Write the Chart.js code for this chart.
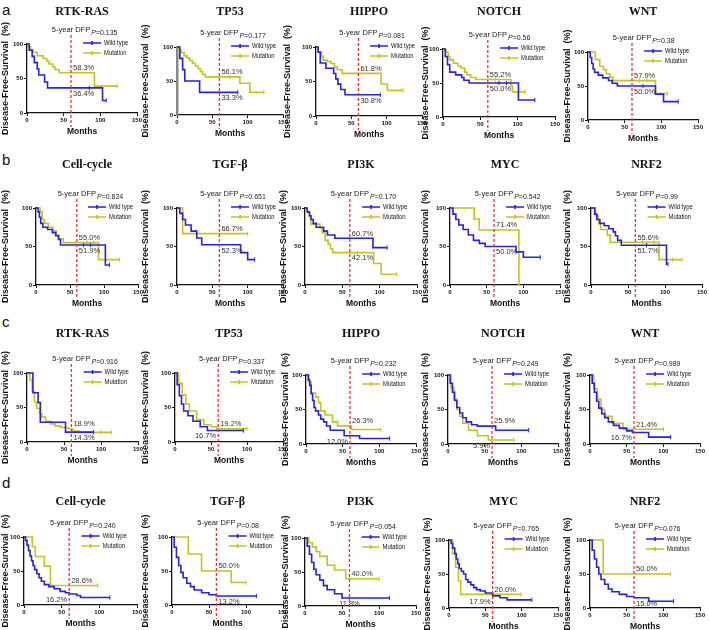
<!DOCTYPE html>
<html>
<head>
<meta charset="utf-8">
<script src="https://cdn.jsdelivr.net/npm/chart.js@4.4.1/dist/chart.umd.min.js"></script>
<style>
  html, body { margin: 0; padding: 0; background: #fff; }
  #fig { position: relative; width: 709px; height: 630px; overflow: hidden; font-family: "Liberation Sans", Arial, sans-serif; }
  #fig canvas { position: absolute; }
  .row-lab { position: absolute; font-size: 15px; line-height: 1; color: #111; }
</style>
</head>
<body>
<div id="fig"></div>
<script>
// ---- data ----
const panelTitles = ['RTK-RAS', 'TP53', 'HIPPO', 'NOTCH', 'WNT',
  'Cell-cycle', 'TGF-β', 'PI3K', 'MYC', 'NRF2',
  'RTK-RAS', 'TP53', 'HIPPO', 'NOTCH', 'WNT',
  'Cell-cycle', 'TGF-β', 'PI3K', 'MYC', 'NRF2'];
const pValues = ['0.135', '0.177', '0.081', '0.56', '0.38',
  '0.824', '0.651', '0.170', '0.542', '0.99',
  '0.916', '0.337', '0.232', '0.249', '0.989',
  '0.240', '0.08', '0.054', '0.765', '0.076'];
// 5-year DFP labels (upper and lower value per panel)
const pctHigh = [58.3, 56.1, 61.8, 55.2, 57.9, 55.0, 66.7, 60.7, 71.4, 55.6, 18.9, 19.2, 26.3, 25.9, 21.4, 28.6, 50.0, 40.0, 20.0, 50.0];
const pctLow = [36.4, 33.3, 30.8, 50.0, 50.0, 51.9, 52.3, 42.1, 50.0, 51.7, 14.3, 16.7, 12.0, 5.9, 16.7, 16.2, 13.2, 11.8, 17.9, 15.0];

// Kaplan-Meier steps: months and survival (%) for wild type / mutation
const wildTime = [
  [0, 3, 7, 10, 14, 16, 24, 28, 85, 103, 108],
  [0, 4, 8, 11, 32, 86],
  [0, 3, 6, 14, 25, 28, 31, 35, 41, 91],
  [0, 3, 6, 9, 17, 25, 28, 35, 75, 85, 101, 123],
  [0, 3, 5, 7, 9, 14, 20, 28, 33, 40, 75, 92, 103, 123],
  [0, 3, 5, 7, 10, 17, 24, 29, 33, 36, 70, 80, 102, 108],
  [0, 4, 8, 12, 20, 28, 35, 90, 100, 110],
  [0, 3, 6, 8, 11, 15, 25, 30, 40, 91, 110],
  [0, 4, 8, 12, 18, 25, 32, 40, 48, 90, 100, 123],
  [0, 5, 8, 12, 18, 24, 30, 33, 36, 41, 75, 102, 104],
  [0, 8, 15, 18, 52, 90],
  [0, 3, 6, 9, 12, 18, 25, 35, 45, 95],
  [0, 3, 5, 7, 9, 11, 13, 17, 20, 24, 28, 33, 52, 73, 114],
  [0, 3, 6, 9, 12, 16, 20, 25, 32, 40, 65, 110],
  [0, 3, 6, 9, 12, 16, 20, 25, 32, 40, 50, 58, 80, 110],
  [0, 2, 4, 6, 8, 10, 12, 14, 17, 20, 23, 27, 33, 40, 48, 55, 60, 70, 75, 114],
  [0, 3, 6, 9, 12, 15, 20, 25, 30, 40, 50, 60, 114],
  [0, 3, 6, 9, 12, 15, 20, 25, 30, 40, 50, 114],
  [0, 3, 5, 8, 10, 12, 14, 17, 20, 23, 26, 30, 34, 38, 43, 50, 60, 70, 80, 114],
  [0, 3, 6, 9, 12, 15, 20, 25, 30, 40, 50, 60, 80, 114]
];
const wildSurv = [
  [100, 91, 82, 73, 64, 55, 45, 36.4, 36.4, 18.2, 18.2],
  [100, 83.3, 66.7, 50, 33.3, 33.3],
  [100, 92.3, 76.9, 69.2, 61.5, 53.8, 46.2, 38.5, 30.8, 30.8],
  [100, 89, 77, 66, 62, 58, 54, 50, 50, 50, 25, 25],
  [100, 92, 83, 75, 70, 66, 62, 58, 54, 50, 50, 38, 27, 27],
  [100, 95, 88, 80, 75, 72, 68, 64, 59, 51.9, 51.9, 51.9, 26, 26],
  [100, 93, 85, 78, 70, 61, 52.3, 42, 33, 33],
  [100, 95, 90, 85, 80, 75, 70, 65, 60.7, 48.6, 48.6],
  [100, 92, 85, 78, 72, 65, 58, 54, 50, 43, 36, 36],
  [100, 92, 85, 80, 77, 73, 69, 64, 58, 51.7, 51.7, 27, 27],
  [100, 71.4, 57.1, 28.6, 14.3, 14.3],
  [100, 83, 67, 55, 45, 38, 30, 22, 16.7, 16.7],
  [100, 93, 85, 73, 63, 53, 48, 42, 36, 32, 26, 20, 12, 8, 8],
  [100, 88, 75, 63, 53, 45, 38, 32, 28, 25.9, 20, 20],
  [100, 88, 75, 62, 52, 44, 38, 32, 27, 23, 19, 16.7, 10, 10],
  [100, 95, 88, 80, 72, 65, 58, 52, 46, 40, 35, 30, 27, 24, 20, 18, 16.2, 14, 11, 11],
  [100, 85, 70, 58, 48, 40, 32, 27, 22, 18, 15, 13.2, 13.2],
  [100, 88, 76, 64, 54, 46, 38, 30, 24, 18, 11.8, 11.8],
  [100, 95, 88, 80, 72, 65, 58, 54, 50, 42, 38, 34, 30, 27, 25, 22, 17.9, 15, 12, 12],
  [100, 85, 72, 60, 50, 42, 35, 28, 24, 20, 17, 15, 10, 10]
];
const mutTime = [
  [0, 2, 5, 8, 14, 22, 27, 30, 35, 38, 44, 92, 123],
  [0, 2, 4, 6, 10, 14, 18, 22, 26, 30, 33, 36, 40, 75, 89, 103, 123],
  [0, 3, 8, 10, 16, 21, 26, 30, 37, 92, 101, 123],
  [0, 4, 7, 9, 14, 20, 24, 29, 32, 37, 44, 70, 91, 93, 110],
  [0, 10, 16, 21, 25, 30, 34, 70, 80, 92, 108],
  [0, 6, 9, 12, 18, 25, 30, 34, 40, 75, 85, 92, 123],
  [0, 8, 100],
  [0, 3, 6, 8, 20, 23, 27, 31, 34, 37, 70, 92, 102, 123],
  [0, 33, 40, 94],
  [0, 6, 10, 13, 22, 26, 70, 85, 92, 110, 123],
  [0, 4, 7, 10, 13, 17, 20, 25, 32, 38, 46, 56, 62, 70, 100, 114],
  [0, 5, 10, 15, 20, 30, 40, 50, 58, 100],
  [0, 4, 7, 13, 17, 20, 26, 36, 43, 62, 102],
  [0, 4, 8, 12, 16, 20, 28, 40, 55, 90],
  [0, 5, 10, 15, 20, 30, 45, 100],
  [0, 11, 15, 27, 35, 98],
  [0, 22, 40, 80, 100],
  [0, 5, 10, 15, 20, 30, 40, 55, 100],
  [0, 5, 9, 13, 16, 99],
  [0, 18, 110]
];
const mutSurv = [
  [100, 96, 92, 88, 83, 79, 75, 71, 67, 63, 58.3, 38.9, 38.9],
  [100, 97, 95, 92, 87, 84, 80, 76, 72, 68, 64, 60, 56.1, 56.1, 46.8, 33.4, 33.4],
  [100, 93, 86, 81, 79, 76, 71, 67, 61.8, 46.4, 37.1, 37.1],
  [100, 95, 89, 84, 79, 75, 72, 66, 62, 58, 55.2, 55.2, 46, 37, 37],
  [100, 89, 79, 74, 68, 63, 57.9, 57.9, 57.9, 39, 39],
  [100, 95, 85, 80, 75, 70, 65, 60, 55, 55, 55, 33, 33],
  [100, 66.7, 66.7],
  [100, 94, 89, 79, 74, 68, 58, 53, 47, 42.1, 42.1, 28, 14, 14],
  [100, 85.7, 71.4, 0],
  [100, 90, 80, 72, 65, 55.6, 55.6, 55.6, 33, 33, 33],
  [100, 90, 73, 58, 49, 41, 36, 30, 26, 23, 21, 18.9, 16, 14, 14, 14],
  [100, 85, 68, 55, 45, 32, 25, 22, 19.2, 19.2],
  [100, 90, 74, 68, 60, 48, 42, 32, 26.3, 21, 21],
  [100, 82, 65, 50, 40, 30, 20, 12, 5.9, 5.9],
  [100, 80, 65, 50, 40, 30, 21.4, 21.4],
  [100, 85.7, 71.4, 57.1, 28.6, 28.6],
  [100, 75, 50, 33, 33],
  [100, 93, 87, 80, 73, 60, 53, 40, 40],
  [100, 80, 60, 40, 20, 20],
  [100, 50, 50]
];
const xTicks = [0, 50, 100, 150];
const yTicks = [0, 50, 100];

// ---- layout (page pixels) ----
const rowTitleY = [12, 165, 334, 502];
const rowLetters = ['a', 'b', 'c', 'd'];
const rowLetterY = [2, 152, 314, 475];
// [y-title centre x, plot left, plot right, plot top, plot bottom]
const geom = [
  [5, 27, 137, 44, 113], [145, 177, 283, 47, 115], [287, 316, 422, 47, 116], [425, 443, 555, 49, 117], [567, 588, 698, 52, 120],
  [5, 36, 138, 208, 285], [145, 177, 283, 208, 285], [283, 305, 417, 208, 285], [425, 450, 560, 208, 285], [567, 591, 702, 208, 285],
  [5, 27, 138, 373, 442], [145, 175, 283, 373, 442], [285, 306, 416, 375, 444], [425, 448, 558, 375, 444], [567, 590, 700, 375, 444],
  [5, 24, 137, 537, 605], [145, 172, 283, 537, 605], [285, 305, 416, 538, 606], [427, 449, 558, 540, 608], [567, 590, 700, 540, 608]
];
const lowSide = ['r', 'r', 'r', 'r', 'r', 'r', 'r', 'r', 'r', 'r',
  'r', 'l', 'l', 'l', 'l', 'l', 'r', 'c', 'l', 'r'];

const BLUE = '#2424d8';
const YEL = '#c8c21e';
const RED = '#ee3535';
const SANS = '"Liberation Sans", Arial, sans-serif';

const fig = document.getElementById('fig');
rowLetters.forEach((l, r) => {
  const d = document.createElement('div');
  d.className = 'row-lab';
  d.textContent = l;
  d.style.left = '2px';
  d.style.top = rowLetterY[r] + 'px';
  fig.appendChild(d);
});

function curve(times, surv, color, label) {
  const pts = times.map((t, k) => ({ x: t, y: surv[k] }));
  return {
    label,
    data: pts,
    stepped: true,
    borderColor: color,
    borderWidth: 1.6,
    pointStyle: 'line',
    rotation: 90,
    pointRadius: pts.map((p, k) => (k > 0 && p.y === pts[k - 1].y) ? 2.2 : 0),
    pointBorderColor: color,
    pointBorderWidth: 1,
    clip: false
  };
}

const annot = {
  id: 'annot',
  afterDraw(chart) {
    const i = chart.options.panelIndex;
    const top = chart.options.canvasTop;
    const row = Math.floor(i / 5);
    const { ctx, chartArea: a, scales: { x, y } } = chart;
    const xd = x.getPixelForValue(60);
    ctx.save();
    // panel title
    ctx.fillStyle = '#111';
    ctx.font = 'bold 12px "Liberation Serif", "Times New Roman", serif';
    ctx.textAlign = 'center';
    ctx.textBaseline = 'middle';
    ctx.fillText(panelTitles[i], (a.left + a.right) / 2, rowTitleY[row] - top);
    // 5-year marker
    ctx.strokeStyle = RED;
    ctx.lineWidth = 1.3;
    ctx.setLineDash([3, 2]);
    ctx.beginPath();
    ctx.moveTo(xd, a.top - 9);
    ctx.lineTo(xd, a.bottom + 14);
    ctx.stroke();
    ctx.setLineDash([]);
    ctx.font = '7.5px ' + SANS;
    ctx.fillStyle = '#222';
    ctx.textBaseline = 'middle';
    ctx.fillText('5-year DFP', xd, a.top - 14);
    let px = xd + ctx.measureText('5-year DFP').width / 2 + 1;
    ctx.textAlign = 'left';
    ctx.font = 'italic 7px ' + SANS;
    ctx.fillText('P', px, a.top - 11);
    px += ctx.measureText('P').width;
    ctx.font = '7px ' + SANS;
    ctx.fillText('=' + pValues[i], px, a.top - 11);
    // legend (narrow lettering as in the figure)
    const lx = a.left + (a.right - a.left) * 0.51;
    [[BLUE, 'Wild type', a.top - 1], [YEL, 'Mutation', a.top + 9]].forEach(([c, t, ly]) => {
      ctx.strokeStyle = c;
      ctx.lineWidth = 1.6;
      ctx.beginPath();
      ctx.moveTo(lx, ly);
      ctx.lineTo(lx + 18, ly);
      ctx.moveTo(lx + 9, ly - 2);
      ctx.lineTo(lx + 9, ly + 2);
      ctx.stroke();
      ctx.fillStyle = '#111';
      ctx.font = '7.5px ' + SANS;
      ctx.save();
      ctx.translate(lx + 21, ly);
      ctx.scale(0.78, 1);
      ctx.fillText(t, 0, 0);
      ctx.restore();
    });
    // percentages at 60 months
    ctx.fillStyle = '#333';
    ctx.font = '7.5px ' + SANS;
    ctx.textAlign = 'left';
    ctx.textBaseline = 'bottom';
    ctx.fillText(pctHigh[i].toFixed(1) + '%', xd + 2, y.getPixelForValue(pctHigh[i]) - 1);
    ctx.textBaseline = 'top';
    const s = lowSide[i];
    ctx.textAlign = s === 'r' ? 'left' : s === 'l' ? 'right' : 'center';
    const lxp = s === 'r' ? xd + 2 : s === 'l' ? xd - 2 : xd;
    ctx.fillText(pctLow[i].toFixed(1) + '%', lxp, y.getPixelForValue(pctLow[i]) + 2);
    ctx.restore();
  }
};

function makePanel(i) {
  const g = geom[i];
  const row = Math.floor(i / 5);
  const left = g[0] - 5;
  const top = rowTitleY[row] - 10;
  const width = g[2] - left + 12;
  const height = g[4] + 24 - top;
  const cv = document.createElement('canvas');
  cv.width = width;
  cv.height = height;
  cv.style.left = left + 'px';
  cv.style.top = top + 'px';
  cv.style.width = width + 'px';
  cv.style.height = height + 'px';
  fig.appendChild(cv);

  const tickFont = { family: SANS, size: 6, weight: 'bold' };
  new Chart(cv, {
    type: 'line',
    data: {
      datasets: [
        curve(wildTime[i], wildSurv[i], BLUE, 'Wild type'),
        curve(mutTime[i], mutSurv[i], YEL, 'Mutation')
      ]
    },
    options: {
      panelIndex: i,
      canvasTop: top,
      responsive: false,
      animation: false,
      devicePixelRatio: 1,
      layout: { padding: { top: g[3] - top, left: 0, right: 12, bottom: 0 } },
      plugins: { legend: { display: false }, tooltip: { enabled: false } },
      scales: {
        x: {
          type: 'linear', min: 0, max: 150,
          afterFit: s => { s.height = 24; },
          afterBuildTicks: s => { s.ticks = xTicks.map(v => ({ value: v })); },
          border: { color: '#111', width: 1.3 },
          grid: { drawOnChartArea: false, color: '#111', tickLength: 3 },
          ticks: { font: tickFont, color: '#111', padding: 1, maxRotation: 0 },
          title: { display: true, text: 'Months', font: { family: SANS, size: 8.5, weight: 'bold' }, color: '#111', padding: { top: 0, bottom: 0.6 } }
        },
        y: {
          type: 'linear', min: 0, max: 100,
          afterFit: s => { s.width = g[1] - left; },
          afterBuildTicks: s => { s.ticks = yTicks.map(v => ({ value: v })); },
          border: { color: i === 1 ? '#888' : '#111', width: i === 1 ? 2.5 : 1.3 },
          grid: { drawOnChartArea: false, color: '#111', tickLength: 3 },
          ticks: { font: tickFont, color: '#111', padding: 1 },
          title: { display: true, text: 'Disease-Free-Survival  (%)', font: { family: SANS, size: 9, weight: 'bold' }, color: '#111', padding: { top: 0, bottom: 0 } }
        }
      }
    },
    plugins: [annot]
  });
}

for (let i = 0; i < 20; i++) makePanel(i);
</script>
</body>
</html>
